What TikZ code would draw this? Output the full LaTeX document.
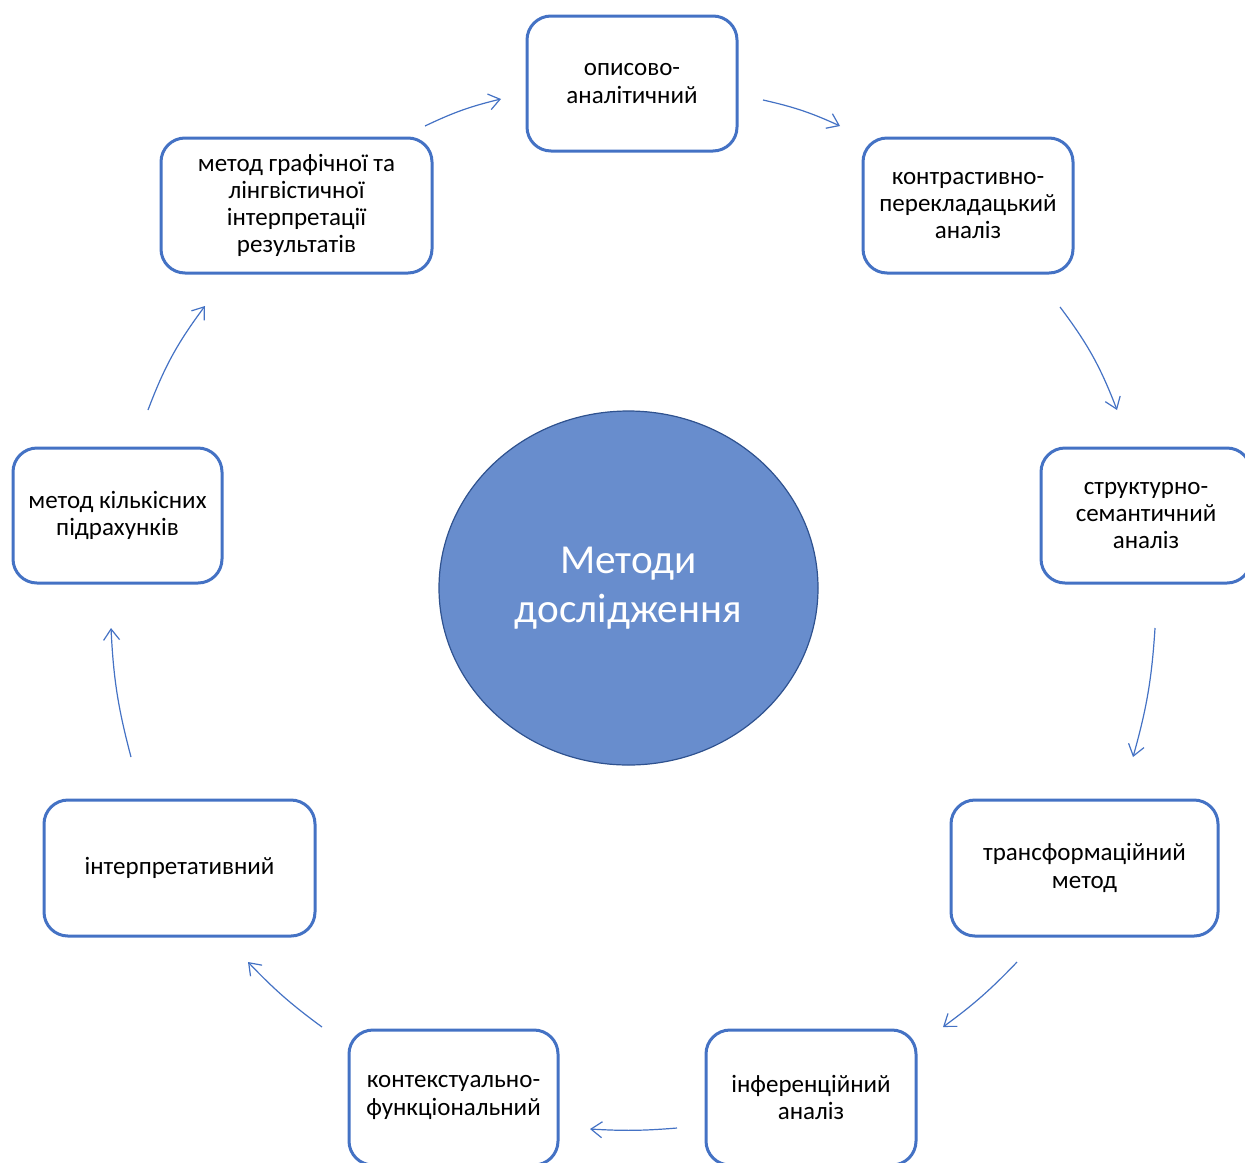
\documentclass[tikz,border=0pt]{standalone}
\usepackage{fontspec}
\setmainfont{Carlito}
\usetikzlibrary{arrows.meta,shapes.geometric}
\definecolor{boxblue}{HTML}{4472C4}
\definecolor{circfill}{HTML}{688DCD}
\definecolor{circline}{HTML}{2F528F}
\tikzset{
  mbox/.style={draw=boxblue,line width=1.5pt,rounded corners=12pt,align=center,
    font=\fontsize{12.5}{13.6}\selectfont,inner sep=2pt},
  arr/.style={draw=boxblue,line width=.6pt,-{Straight Barb[length=5.5pt,width=8pt]}}
}
\begin{document}
\begin{tikzpicture}[x=.5pt,y=-.5pt]
\useasboundingbox (0,0) rectangle (1245,1162);
% centre
\node[ellipse,draw=circline,fill=circfill,line width=.6pt,minimum width=189.5pt,minimum height=177pt,
  text=white,align=center,font=\fontsize{20.6}{24.5}\selectfont] (meth) at (628.5,588) {Методи\\дослідження};
% methods round the centre
\node[mbox,minimum width=105pt,minimum height=67.5pt] (opys) at (632,83.5) {описово-\\аналітичний};
\node[mbox,minimum width=105pt,minimum height=67.5pt] (kontr) at (968,205.5) {контрастивно-\\перекладацький\\аналіз};
\node[mbox,minimum width=105pt,minimum height=67.5pt] (strukt) at (1146,515.5) {структурно-\\семантичний\\аналіз};
\node[mbox,minimum width=133.5pt,minimum height=68pt] (transf) at (1084.5,868) {трансформаційний\\метод};
\node[mbox,minimum width=105pt,minimum height=67.5pt] (infer) at (811,1097.5) {інференційний\\аналіз};
\node[mbox,minimum width=104.5pt,minimum height=67.5pt] (kontekst) at (453.5,1097.5) {контекстуально-\\функціональний};
\node[mbox,minimum width=135.5pt,minimum height=68pt] (interp) at (179.5,868) {інтерпретативний};
\node[mbox,minimum width=104.5pt,minimum height=67.5pt] (kilk) at (117.5,515.5) {метод кількісних\\підрахунків};
\node[mbox,minimum width=135.5pt,minimum height=67.5pt] (graf) at (296.5,205.5) {метод графічної та\\лінгвістичної\\інтерпретації\\результатів};
% arrow ends
\coordinate (a1) at (763,100); \coordinate (b1) at (840,126);
\coordinate (a2) at (1060,307); \coordinate (b2) at (1117,410);
\coordinate (a3) at (1155,628); \coordinate (b3) at (1133,757);
\coordinate (a4) at (1017,962); \coordinate (b4) at (943,1027);
\coordinate (a5) at (677,1128); \coordinate (b5) at (590,1129);
\coordinate (a6) at (322,1027); \coordinate (b6) at (248,962);
\coordinate (a7) at (131,757); \coordinate (b7) at (111,628);
\coordinate (a8) at (148,410); \coordinate (b8) at (205,306);
\coordinate (a9) at (425,126); \coordinate (b9) at (501,99);
\draw[arr] (a1) to[bend left=6] (b1); \draw[arr] (a2) to[bend left=8] (b2);
\draw[arr] (a3) to[bend left=6] (b3); \draw[arr] (a4) to[bend left=5] (b4);
\draw[arr] (a5) to[bend left=4] (b5); \draw[arr] (a6) to[bend left=5] (b6);
\draw[arr] (a7) to[bend left=6] (b7); \draw[arr] (a8) to[bend left=8] (b8);
\draw[arr] (a9) to[bend left=6] (b9);
\end{tikzpicture}
\end{document}
